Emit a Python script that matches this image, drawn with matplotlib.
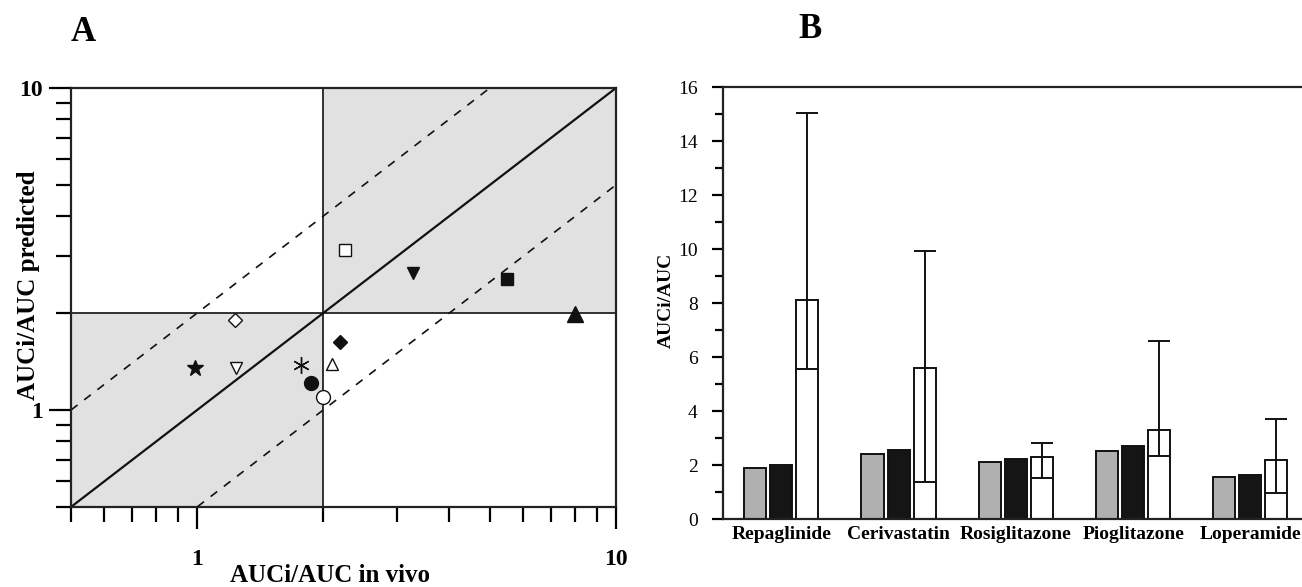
import numpy as np
import matplotlib.pyplot as plt
from matplotlib.ticker import FixedLocator, NullFormatter, FixedFormatter

plt.rcParams['font.family'] = ['Liberation Serif', 'DejaVu Serif']

# Panel A: predicted vs observed AUC ratio, one marker per drug pair
obs_auc = [0.99, 1.24, 1.23, 1.77, 1.87, 2.10, 2.00, 2.19, 2.26, 3.27, 5.5, 8.0]
pred_auc = [1.35, 1.35, 1.91, 1.38, 1.21, 1.39, 1.10, 1.63, 3.13, 2.66, 2.56, 1.99]
markers = ['*', 'v', 'D', (6, 2, 0), 'o', '^', 'o', 'D', 's', 'v', 's', '^']
filled = [True, False, False, True, True, False, False, True, False, True, True, True]
sizes = [12, 9, 7, 12, 10, 9, 10, 7, 8, 9, 9, 11]

# Panel B: AUC ratio per substrate
drugs = ['Repaglinide', 'Cerivastatin', 'Rosiglitazone', 'Pioglitazone', 'Loperamide']
auc_gray = [1.91, 2.42, 2.12, 2.54, 1.58]
auc_black = [2.01, 2.57, 2.22, 2.71, 1.63]
auc_white = [8.12, 5.60, 2.30, 3.31, 2.20]
white_low = [5.55, 1.39, 1.52, 2.34, 0.99]
white_high = [15.06, 9.94, 2.81, 6.60, 3.70]

fig = plt.figure(figsize=(13.02, 5.87), dpi=100)

# ---------------- Panel A ----------------
axA = fig.add_axes([0.0545, 0.1363, 0.4186, 0.7138])
axA.set_xscale('log')
axA.set_yscale('log')
axA.set_xlim(0.5, 10)
axA.set_ylim(0.5, 10)

axA.fill_between([0.5, 2], 0.5, 2, color='#e1e1e1', lw=0, zorder=0)
axA.fill_between([2, 10], 2, 10, color='#e1e1e1', lw=0, zorder=0)
axA.axvline(2, color='#222222', lw=1.3, zorder=1)
axA.axhline(2, color='#222222', lw=1.3, zorder=1)

line_x = np.array([0.5, 10])
axA.plot(line_x, line_x, color='#111111', lw=1.6, zorder=2)
axA.plot(line_x, 2 * line_x, color='#111111', lw=1.2, ls=(0, (5, 5)), zorder=2)
axA.plot(line_x, 0.5 * line_x, color='#111111', lw=1.2, ls=(0, (5, 5)), zorder=2)

for x, y, m, f, s in zip(obs_auc, pred_auc, markers, filled, sizes):
    axA.plot(x, y, marker=m, ms=s, ls='none', zorder=3,
             markerfacecolor='#111111' if f else 'white',
             markeredgecolor='#111111', markeredgewidth=1.0)

maj = [1, 10]
mins = [0.5, 0.6, 0.7, 0.8, 0.9, 2, 3, 4, 5, 6, 7, 8, 9]
for axis in (axA.xaxis, axA.yaxis):
    axis.set_major_locator(FixedLocator(maj))
    axis.set_major_formatter(FixedFormatter(['1', '10']))
    axis.set_minor_locator(FixedLocator(mins))
    axis.set_minor_formatter(NullFormatter())
axA.tick_params(which='major', length=16, width=1.6, direction='out', labelsize=17)
axA.tick_params(axis='x', which='major', pad=14)
axA.tick_params(axis='y', which='major', pad=4)
axA.tick_params(which='minor', length=11, width=1.6, direction='out')
for lab in axA.get_xticklabels() + axA.get_yticklabels():
    lab.set_fontweight('bold')
for sp in axA.spines.values():
    sp.set_linewidth(1.6)
    sp.set_color('#222222')
fig.text(330 / 1302, 1 - 576 / 587, 'AUCi/AUC in vivo', fontsize=18,
         fontweight='bold', ha='center', va='center')
fig.text(28 / 1302, 1 - 285 / 587, 'AUCi/AUC predicted', fontsize=18,
         fontweight='bold', ha='center', va='center', rotation=90)

# ---------------- Panel B ----------------
axB = fig.add_axes([0.555, 0.1153, 0.445, 0.736])
xpos = np.arange(len(drugs))
w = 0.188
off = 0.222
axB.bar(xpos - off, auc_gray, width=w, color='#b0b0b0', edgecolor='#111111', lw=1.4)
axB.bar(xpos, auc_black, width=w, color='#151515', edgecolor='#111111', lw=1.4)
axB.bar(xpos + off, auc_white, width=w, color='white', edgecolor='#111111', lw=1.4)
err_lo = np.array(auc_white) - np.array(white_low)
err_hi = np.array(white_high) - np.array(auc_white)
axB.errorbar(xpos + off, auc_white, yerr=[err_lo, err_hi], fmt='none',
             ecolor='#111111', elinewidth=1.4, capsize=7.6, capthick=1.4)

axB.set_xlim(-0.5, 4.44)
axB.set_ylim(0, 16)
axB.set_yticks(np.arange(0, 17, 2))
axB.set_yticks(np.arange(1, 16, 2), minor=True)
axB.tick_params(axis='y', which='major', length=8, width=1.6, labelsize=14, pad=10)
axB.tick_params(axis='y', which='minor', length=5.5, width=1.6)
axB.set_xticks(xpos)
axB.set_xticklabels(drugs, fontsize=14, fontweight='bold')
axB.tick_params(axis='x', length=0, pad=5)
axB.spines['right'].set_visible(False)
for sp in ('left', 'bottom', 'top'):
    axB.spines[sp].set_linewidth(1.6)
    axB.spines[sp].set_color('#222222')
fig.text(666 / 1302, 1 - 300 / 587, 'AUCi/AUC', fontsize=14,
         fontweight='bold', ha='center', va='center', rotation=90)

fig.text(0.064, 0.945, 'A', fontsize=25, fontweight='bold', ha='center', va='center')
fig.text(0.622, 0.950, 'B', fontsize=25, fontweight='bold', ha='center', va='center')

fig.savefig('out.png', dpi=100)
